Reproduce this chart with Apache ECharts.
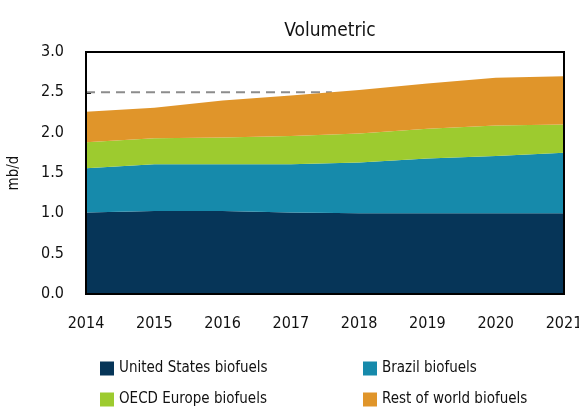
<!DOCTYPE html>
<html><head><meta charset="utf-8">
<script src="https://cdn.jsdelivr.net/npm/echarts@6/dist/echarts.min.js"></script>
<style>html,body{margin:0;padding:0;background:#fff}#c{width:579px;height:411px}</style>
</head><body><div id="c"></div>
<script>
const years = ['2014', '2015', '2016', '2017', '2018', '2019', '2020', '2021'];
const seriesNames = ['United States biofuels', 'Brazil biofuels', 'OECD Europe biofuels', 'Rest of world biofuels'];
const usBio = [1.01, 1.03, 1.03, 1.01, 1.00, 1.00, 1.00, 1.00];
const brazilBio = [0.55, 0.58, 0.58, 0.60, 0.63, 0.68, 0.71, 0.75];
const europeBio = [0.32, 0.32, 0.33, 0.35, 0.36, 0.37, 0.38, 0.35];
const restBio = [0.38, 0.38, 0.46, 0.50, 0.54, 0.56, 0.59, 0.60];
const refLevel = 2.5;
const refStartYear = 2014;
const refEndYear = 2017.6;

const colors = ['#063558', '#168aab', '#9dcb2f', '#e0952a'];
const font = '"DejaVu Sans Condensed", sans-serif';
const vals = [usBio, brazilBio, europeBio, restBio];

const chart = echarts.init(document.getElementById('c'), null, {renderer: 'canvas'});
const series = vals.map((v, i) => ({
  name: seriesNames[i], type: 'line', stack: 'total', symbol: 'none',
  lineStyle: {width: 0}, areaStyle: {color: colors[i], opacity: 1},
  itemStyle: {color: colors[i]},
  data: v, z: 2
}));
series.push({
  type: 'line', symbol: 'none', silent: true, z: 1, xAxisIndex: 1,
  lineStyle: {color: '#8c8c8c', width: 2, type: [9, 6]},
  data: [[refStartYear, refLevel], [refEndYear, refLevel]]
});
const legendPos = [[95, 356], [358, 356], [95, 387], [358, 387]];
const axisCommon = {
  axisLine: {show: true, lineStyle: {color: '#000', width: 2}},
  axisTick: {show: true, inside: true, length: 5, lineStyle: {color: '#000', width: 2}},
  splitLine: {show: false}
};
chart.setOption({
  animation: false,
  color: colors,
  title: {text: 'Volumetric', left: 325, top: 17, textAlign: 'center',
    textStyle: {fontFamily: font, fontSize: 19, fontWeight: 'normal', color: '#111'}},
  grid: {left: 86, right: 15, top: 52, bottom: 117, containLabel: false, outerBoundsMode: 'none'},
  legend: seriesNames.map((n, i) => ({
    data: [n], left: legendPos[i][0], top: legendPos[i][1],
    icon: 'rect', itemWidth: 14, itemHeight: 14, itemGap: 6,
    textStyle: {fontFamily: font, fontSize: 15, color: '#111'}
  })),
  xAxis: [Object.assign({
    type: 'category', data: years, boundaryGap: false,
    axisLabel: {margin: 22, fontFamily: font, fontSize: 16, color: '#111'}
  }, axisCommon), {
    type: 'value', min: 2014, max: 2021, show: false
  }],
  yAxis: Object.assign({
    type: 'value', min: 0, max: 3, interval: 0.5,
    name: 'mb/d', nameLocation: 'middle', nameGap: 64, nameRotate: 90,
    nameTextStyle: {fontFamily: font, fontSize: 15, color: '#111'},
    axisLabel: {margin: 22, fontFamily: font, fontSize: 16, color: '#111', formatter: v => v.toFixed(1)}
  }, axisCommon),
  series: series
});
const g = chart.getModel().getComponent('grid').coordinateSystem.getRect();
chart.setOption({graphic: [{type: 'rect', z: 100, silent: true,
  shape: {x: g.x, y: g.y, width: g.width, height: g.height},
  style: {fill: 'none', stroke: '#000', lineWidth: 2}}]});
</script></body></html>
